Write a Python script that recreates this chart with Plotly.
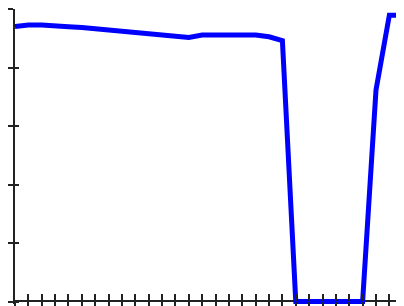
import plotly.graph_objects as go

# ---- data ----
sample_index = list(range(31))
level_pct = [94.0, 94.5, 94.5, 94.4, 93.9, 93.7, 93.3, 93.0, 92.6, 92.0,
             91.6, 91.1, 90.8, 90.3, 91.1, 91.1, 91.1, 91.1, 91.1, 90.5,
             89.2, 0, 0, 0, 0, 0, 0, 72.3, 97.9, 97.9, 97.9]
y_ticks = [0, 20, 40, 60, 80, 100]
x_ticks = list(range(0, 31))

X_RANGE = [0, 29.095]
Y_RANGE = [-0.8547, 100]
X_POS = 0.008475
AX_COLOR = "#222222"

fig = go.Figure()
fig.add_trace(go.Scatter(
    x=sample_index, y=level_pct, mode="lines",
    line=dict(color="#0000ff", width=5),
    hoverinfo="skip", showlegend=False,
))
# invisible copies so the tick-only overlay axes get drawn
for xa in ("x2", "x3"):
    fig.add_trace(go.Scatter(
        x=sample_index, y=level_pct, mode="lines", xaxis=xa, yaxis="y2",
        line=dict(color="rgba(0,0,0,0)", width=0), opacity=0,
        hoverinfo="skip", showlegend=False,
    ))

common = dict(showgrid=False, zeroline=False, showticklabels=False,
              automargin=False)

# the page body has an 8px default margin, so the figure is offset by 8px
fig.update_layout(
    width=396, height=298,
    margin=dict(l=7, r=0, t=1, b=2, pad=0, autoexpand=False),
    paper_bgcolor="white", plot_bgcolor="white",
    showlegend=False,
    xaxis=dict(range=X_RANGE, anchor="free", position=X_POS,
               showline=True, linecolor=AX_COLOR, linewidth=2,
               ticks="", layer="below traces", **common),
    xaxis2=dict(range=X_RANGE, overlaying="x", anchor="free", position=X_POS,
                tickvals=x_ticks, ticks="outside", ticklen=5, tickwidth=2,
                tickcolor=AX_COLOR, showline=False, **common),
    xaxis3=dict(range=X_RANGE, overlaying="x", anchor="free", position=X_POS,
                tickvals=x_ticks, ticks="inside", ticklen=7, tickwidth=2,
                tickcolor=AX_COLOR, showline=False, **common),
    yaxis=dict(range=Y_RANGE, showline=True, linecolor=AX_COLOR, linewidth=2,
               tickvals=y_ticks, ticks="outside", ticklen=6, tickwidth=2,
               tickcolor=AX_COLOR, **common),
    yaxis2=dict(range=Y_RANGE, overlaying="y", side="left", anchor="x",
                tickvals=y_ticks, ticks="inside", ticklen=4, tickwidth=2,
                tickcolor=AX_COLOR, showline=False, **common),
)

fig.write_html("out.html")
